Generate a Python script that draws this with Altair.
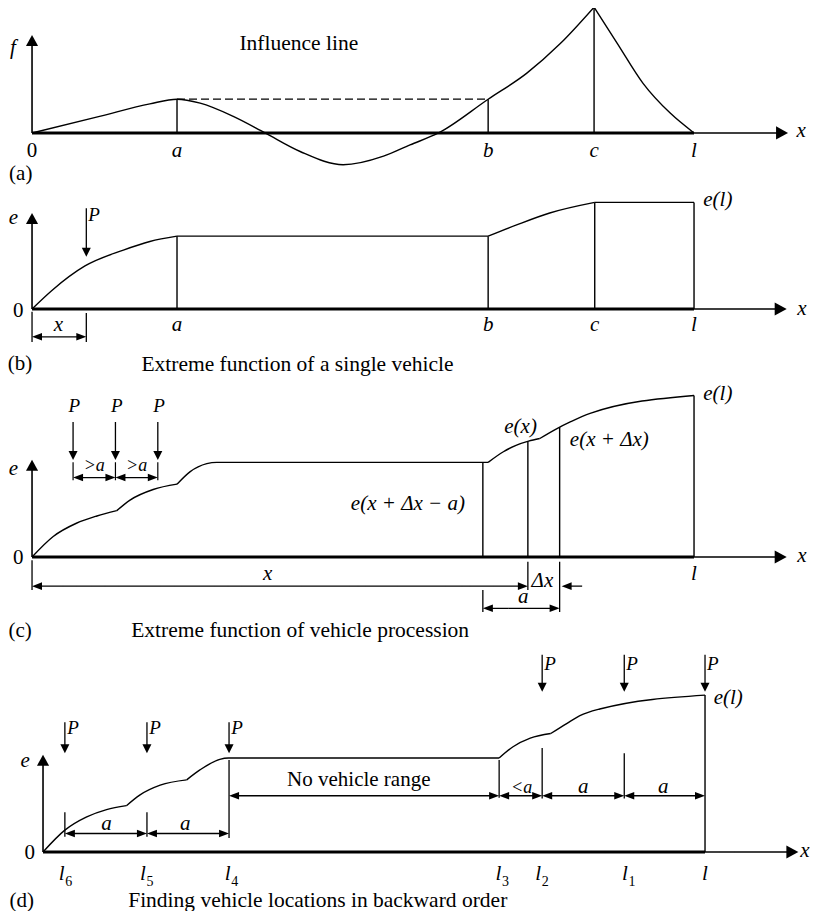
import altair as alt
import pandas as pd

FONT = "Liberation Serif"
SPAN = 100.0  # span length l; all x values in units of l/100, heights in the same units

# ===================== values =====================
# (a) influence line f(x)
a_stations = ["a", "b", "c", "l"]
a_station_x = [21.9, 68.9, 84.9, 100]
a_left_x = [0, 10.2, 17.8, 21.9, 25.4, 30.4, 35.2, 40.5, 47.0, 53.1, 57.1, 61.4, 68.9, 74.7, 79.8, 84.9]
a_left_y = [0, 2.5, 4.4, 5.1, 4.5, 2.5, 0, -2.8, -4.8, -3.5, -1.8, 0, 5.1, 9.0, 13.5, 19.0]
a_right_x = [84.9, 88.4, 92.3, 96.4, 100]
a_right_y = [19.0, 13.55, 7.5, 3.0, 0]
a_vert_x = [21.9, 68.9, 84.9]
a_vert_top = [5.1, 5.1, 19.0]

# (b) extreme function of a single vehicle
b_stations = ["a", "b", "c", "l"]
b_station_x = [21.9, 68.9, 85.0, 100]
b_rise1_x = [0, 3.0, 8.0, 13.8, 17.8, 21.9]
b_rise1_y = [0, 2.8, 6.5, 8.9, 10.2, 11.0]
b_rise2_x = [68.9, 73.2, 78.2, 85.0]
b_rise2_y = [11.0, 12.7, 14.5, 16.1]
b_vert_x = [21.9, 68.9, 85.0, 100]
b_vert_top = [11.0, 11.0, 16.1, 16.1]
b_load_x = 8.2

# (c) extreme function of vehicle procession
c_segments = [
    ([0, 3.2, 6.7, 9.8, 12.8], [0, 3.1, 5.1, 6.2, 7.0]),
    ([12.8, 14.8, 18.3, 21.9], [7.0, 8.6, 10.2, 11.0]),
    ([21.9, 23.9, 26.4, 27.9, 68.9], [11.0, 12.9, 14.1, 14.3, 14.3]),
    ([68.9, 71.2, 73.2, 75.0, 76.7], [14.3, 15.9, 16.9, 17.5, 17.9]),
    ([76.7, 79.3, 81.3, 84.3, 100], [17.9, 19.4, 20.4, 21.7, 24.4]),
]
c_vert_x = [68.1, 74.9, 79.7, 100]
c_vert_top = [14.3, 17.5, 19.6, 24.4]
c_load_x = [6.2, 12.6, 19.0]

# (d) finding vehicle locations in backward order
d_segments = [
    ([0, 3.3, 6.6, 9.6, 12.6], [0, 3.3, 5.3, 6.4, 7.0]),
    ([12.6, 14.6, 17.7, 21.7], [7.0, 8.6, 10.1, 10.9]),
    ([21.7, 23.7, 26.7, 28.0, 68.9], [10.9, 12.4, 14.0, 14.2, 14.2]),
    ([68.9, 71.0, 73.6, 76.7], [14.2, 15.9, 17.2, 17.9]),
    ([76.7, 79.1, 81.1, 84.1, 100], [17.9, 19.4, 20.6, 21.6, 23.7]),
]
d_locations = [3.3, 15.7, 28.1, 68.9, 75.4, 87.8, 100]       # l6 l5 l4 l3 l2 l1 l
d_loc_sub = ["6", "5", "4", "3", "2", "1", ""]
d_loc_label_x = [2.8, 15.1, 27.9, 68.8, 74.8, 87.9, 100.0]
d_e_l = 23.7

# ===================== panel geometry =====================
W = 804
H = 903
X_DOM = {"a": [-3.63, 117.82], "b": [-3.63, 117.82], "c": [-3.63, 117.82], "d": [-5.29, 116.16]}
Y_DOM = {"a": [-7.86, 18.88], "b": [-9.97, 18.73], "c": [-13.29, 27.49], "d": [-8.91, 31.27]}
Y_RANGE = {"a": [177, 0], "b": [367, 177], "c": [637, 367], "d": [903, 637]}

# ===================== build tables =====================
curves, rules, heads, texts = [], [], [], []


def curve(p, seg, xs, ys):
    for i, (x, y) in enumerate(zip(xs, ys)):
        curves.append({"p": p, "seg": f"{p}{seg}", "o": i, "x": x, "y": y})


def line(p, x, y, x2, y2, w=1.4, dash="solid"):
    rules.append({"p": p, "x": x, "y": y, "x2": x2, "y2": y2, "w": w, "dash": dash})


def head(p, x, y, kind):
    heads.append({"p": p, "x": x, "y": y, "kind": kind})


def label(p, x, y, text, style="it"):
    texts.append({"p": p, "x": x, "y": y, "text": text, "style": style})


def dim(p, x1, x2, y):
    line(p, x1 + 0.8, y, x2 - 0.8, y, 1.3)
    head(p, x1, y, "dl")
    head(p, x2, y, "dr")


def load(p, x, top, tip):
    line(p, x, top, x, tip + 0.8, 1.3)
    head(p, x, tip, "pd")


def frame(p, ytip, xtip):
    line(p, 0, 0, SPAN, 0, 3.0)
    line(p, SPAN, 0, xtip - 1.0, 0, 1.4)
    head(p, xtip, 0, "ar")
    line(p, 0, 0, 0, ytip - 1.0, 1.6)
    head(p, 0, ytip, "au")


# ---- (a)
frame("a", 14.8, 114.2)
curve("a", 1, a_left_x, a_left_y)
curve("a", 2, a_right_x, a_right_y)
for x, t in zip(a_vert_x, a_vert_top):
    line("a", x, 0, x, t)
line("a", a_vert_x[0], a_vert_top[0], a_vert_x[1], a_vert_top[1], 1.3, "dashed")
label("a", -2.9, 12.0, "f")
label("a", 40.3, 12.5, "Influence line", "title")
label("a", 0, -3.6, "0", "rm")
for n, x in zip(a_stations, a_station_x):
    label("a", x, -3.6, n)
label("a", 116.2, -0.55, "x")
label("a", -1.7, -7.1, "(a)", "rm")

# ---- (b)
frame("b", 14.5, 114.0)
curve("b", 1, b_rise1_x, b_rise1_y)
curve("b", 2, [21.9, 68.9], [11.0, 11.0])
curve("b", 3, b_rise2_x, b_rise2_y)
curve("b", 4, [85.0, 100], [16.1, 16.1])
for x, t in zip(b_vert_x, b_vert_top):
    line("b", x, 0, x, t)
load("b", b_load_x, 15.2, 7.9)
line("b", 0, -0.4, 0, -5.0, 1.3)
line("b", b_load_x, -0.6, b_load_x, -5.0, 1.3)
dim("b", 0, b_load_x, -4.2)
label("b", -2.8, 12.8, "e")
label("b", -2.1, -1.2, "0", "rm")
label("b", b_load_x + 0.3, 13.3, "P", "PL")
label("b", 4.0, -3.3, "x")
for n, x in zip(b_stations, b_station_x):
    label("b", x, -3.3, n)
label("b", 116.3, -0.9, "x")
label("b", 101.4, 15.5, "e(l)", "itL")
label("b", -1.8, -9.2, "(b)", "rm")
label("b", 40.1, -9.3, "Extreme function of a single vehicle", "title")

# ---- (c)
frame("c", 14.7, 114.0)
for i, (xs, ys) in enumerate(c_segments):
    curve("c", i, xs, ys)
for x, t in zip(c_vert_x, c_vert_top):
    line("c", x, 0, x, t)
for x in c_load_x:
    load("c", x, 20.4, 14.65)
    line("c", x, 14.3, x, 11.6, 1.2)
    label("c", x + 0.2, 21.9, "P", "P")
dim("c", c_load_x[0], c_load_x[1], 12.0)
dim("c", c_load_x[1], c_load_x[2], 12.0)
label("c", 9.4, 13.0, ">a", "sm")
label("c", 15.8, 13.0, ">a", "sm")
line("c", 0, -0.5, 0, -5.0, 1.3)
line("c", 74.9, -0.7, 74.9, -5.0, 1.3)
line("c", 79.7, -0.7, 79.7, -8.3, 1.3)
line("c", 68.1, -5.0, 68.1, -8.3, 1.3)
dim("c", 0, 74.9, -4.4)
line("c", 83.1, -4.4, 80.8, -4.4, 1.3)
head("c", 80.0, -4.4, "dl")
dim("c", 68.1, 79.7, -7.75)
label("c", -2.8, 12.4, "e")
label("c", -2.1, -1.1, "0", "rm")
label("c", 35.6, -3.4, "x")
label("c", 100, -3.4, "l")
label("c", 77.1, -4.5, "Δx")
label("c", 74.2, -7.0, "a")
label("c", 65.4, 7.1, "e(x + Δx − a)", "itR")
label("c", 73.8, 18.8, "e(x)")
label("c", 87.2, 16.8, "e(x + Δx)")
label("c", 101.4, 23.7, "e(l)", "itL")
label("c", 116.3, -0.7, "x")
label("c", -1.8, -12.1, "(c)", "rm")
label("c", 40.5, -12.1, "Extreme function of vehicle procession", "title")

# ---- (d)
frame("d", 14.7, 114.1)
for i, (xs, ys) in enumerate(d_segments):
    curve("d", i, xs, ys)
line("d", 100, 0, 100, d_e_l)
tick_spans = [(2.3, 6.0), (2.3, 6.0), (2.1, 13.9), (8.2, 13.9), (8.1, 15.7), (8.1, 14.9)]
for x, (y0, y1) in zip(d_locations[:6], tick_spans):
    line("d", x, y0, x, y1, 1.3)
for x in d_locations[:3]:
    load("d", x, 19.6, 14.9)
for x in d_locations[4:]:
    load("d", x, 29.8, 24.2)
for x in d_locations[:3]:
    label("d", x + 0.35, 17.9, "P", "PL")
for x in d_locations[4:]:
    label("d", x + 0.3, 27.5, "P", "PL")
dim("d", d_locations[0], d_locations[1], 2.8)
dim("d", d_locations[1], d_locations[2], 2.8)
for x1, x2 in zip(d_locations[2:6], d_locations[3:7]):
    dim("d", x1, x2, 8.5)
label("d", 9.6, 3.3, "a")
label("d", 21.5, 3.3, "a")
label("d", 47.7, 9.9, "No vehicle range", "rm")
label("d", 72.3, 8.9, "<a", "sm")
label("d", 81.6, 8.9, "a")
label("d", 93.7, 8.9, "a")
for x, s in zip(d_loc_label_x, d_loc_sub):
    label("d", x, -4.2, "l")
    if s:
        label("d", x + 0.55, -5.2, s, "sub")
label("d", -2.7, 12.9, "e")
label("d", -2.0, -1.0, "0", "rm")
label("d", 101.3, 22.4, "e(l)", "itL")
label("d", 115.1, -0.7, "x")
label("d", -3.2, -8.3, "(d)", "rm")
label("d", 41.5, -8.3, "Finding vehicle locations in backward order", "title")

# ===================== chart =====================
HEAD_PATH = {
    "au": "M0,0L0.55,1L-0.55,1Z",
    "ar": "M0,0L-1,-0.55L-1,0.55Z",
    "pd": "M0,0L0.5,-1L-0.5,-1Z",
    "dl": "M0,0L1,-0.38L1,0.38Z",
    "dr": "M0,0L-1,-0.38L-1,0.38Z",
}
HEAD_LEN = {"au": 11, "ar": 12, "pd": 9, "dl": 10, "dr": 10}
STYLE = {
    "it": dict(fontStyle="italic", fontSize=21, align="center"),
    "itL": dict(fontStyle="italic", fontSize=21, align="left"),
    "itR": dict(fontStyle="italic", fontSize=21, align="right"),
    "rm": dict(fontStyle="normal", fontSize=21, align="center"),
    "title": dict(fontStyle="normal", fontSize=21.5, align="center"),
    "P": dict(fontStyle="italic", fontSize=19, align="center"),
    "PL": dict(fontStyle="italic", fontSize=19, align="left"),
    "sm": dict(fontStyle="italic", fontSize=18, align="center"),
    "sub": dict(fontStyle="normal", fontSize=14, align="left"),
}

cdf = pd.DataFrame(curves)
rdf = pd.DataFrame(rules)
hdf = pd.DataFrame(heads)
hdf["sz"] = hdf["kind"].map(lambda k: 4 * HEAD_LEN[k] ** 2)
tdf = pd.DataFrame(texts)

kinds = list(HEAD_PATH)
layers = []
for p in "abcd":
    xs = alt.Scale(domain=X_DOM[p], range=[0, W], nice=False, zero=False)
    ys = alt.Scale(domain=Y_DOM[p], range=Y_RANGE[p], nice=False, zero=False)
    X = alt.X("x:Q", scale=xs, axis=None)
    Y = alt.Y("y:Q", scale=ys, axis=None)

    layers.append(
        alt.Chart(cdf[cdf.p == p]).mark_line(interpolate="monotone", color="black", strokeWidth=1.4)
        .encode(x=X, y=Y, detail="seg:N", order="o:Q")
    )
    layers.append(
        alt.Chart(rdf[rdf.p == p]).mark_rule(color="black")
        .encode(
            x=X, y=Y, x2="x2:Q", y2="y2:Q",
            strokeWidth=alt.StrokeWidth("w:Q", scale=None),
            strokeDash=alt.StrokeDash("dash:N", scale=alt.Scale(domain=["solid", "dashed"], range=[[1, 0], [8, 4]]), legend=None),
        )
    )
    layers.append(
        alt.Chart(hdf[hdf.p == p]).mark_point(filled=True, color="black", opacity=1, strokeWidth=0)
        .encode(
            x=X, y=Y,
            shape=alt.Shape("kind:N", scale=alt.Scale(domain=kinds, range=[HEAD_PATH[k] for k in kinds]), legend=None),
            size=alt.Size("sz:Q", scale=None),
        )
    )
    sub = tdf[tdf.p == p]
    for st, props in STYLE.items():
        part = sub[sub["style"] == st]
        if len(part) == 0:
            continue
        layers.append(
            alt.Chart(part).mark_text(font=FONT, baseline="alphabetic", color="black", **props)
            .encode(x=X, y=Y, text="text:N")
        )

chart = (
    alt.layer(*layers)
    .resolve_scale(x="independent", y="independent")
    .properties(width=W, height=H, padding=0, autosize=alt.AutoSizeParams(type="none"), background="white")
    .configure_view(stroke=None)
)

chart.save("out.html", embed_options={"renderer": "svg", "actions": False})
